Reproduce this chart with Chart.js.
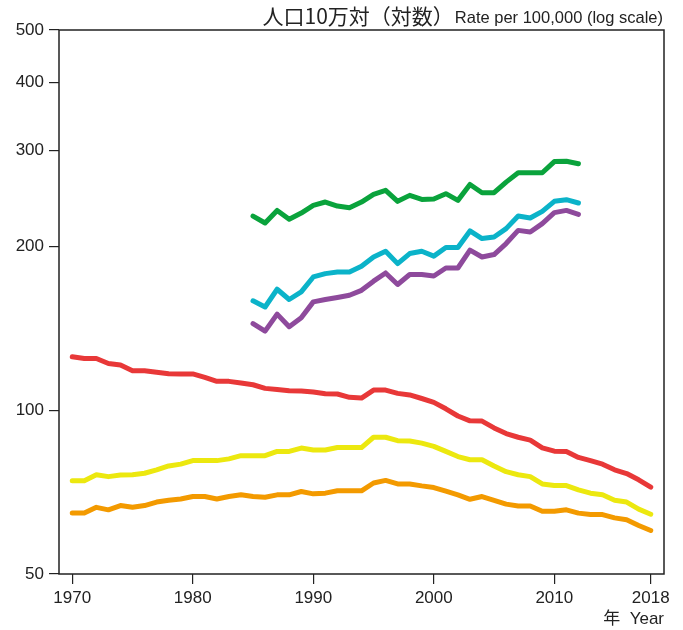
<!DOCTYPE html>
<html>
<head>
<meta charset="utf-8">
<script src="https://cdn.jsdelivr.net/npm/chart.js@4/dist/chart.umd.min.js"></script>
<style>
    html, body { margin: 0; padding: 0; background: #fff; }
    #wrap { width: 683px; height: 630px; }
</style>
</head>
<body>
<div id="wrap"><canvas id="rateChart" width="683" height="630"></canvas></div>
<script>
// ── data ─────────────────────────────────────────────
const yearsLong = [1970, 1971, 1972, 1973, 1974, 1975, 1976, 1977, 1978, 1979,
    1980, 1981, 1982, 1983, 1984, 1985, 1986, 1987, 1988, 1989,
    1990, 1991, 1992, 1993, 1994, 1995, 1996, 1997, 1998, 1999,
    2000, 2001, 2002, 2003, 2004, 2005, 2006, 2007, 2008, 2009,
    2010, 2011, 2012, 2013, 2014, 2015, 2016, 2017, 2018];
const yearsShort = [1985, 1986, 1987, 1988, 1989,
    1990, 1991, 1992, 1993, 1994, 1995, 1996, 1997, 1998, 1999,
    2000, 2001, 2002, 2003, 2004, 2005, 2006, 2007, 2008, 2009,
    2010, 2011, 2012];

const redRates = [125.4, 124.5, 124.5, 121.9, 121.1, 118.2, 118.2, 117.4, 116.7, 116.6,
    116.6, 114.9, 113.0, 113.0, 112.2, 111.4, 109.7, 109.2, 108.6, 108.5,
    108.0, 107.2, 107.1, 105.6, 105.3, 108.9, 108.9, 107.4, 106.7, 105.1,
    103.4, 100.6, 97.6, 95.6, 95.5, 92.8, 90.6, 89.2, 88.1, 85.3,
    84.1, 84.0, 81.9, 80.8, 79.6, 77.7, 76.5, 74.5, 72.2];
const yellowRates = [74.2, 74.2, 76.1, 75.5, 76.0, 76.1, 76.6, 77.7, 79.0, 79.6,
    80.8, 80.8, 80.8, 81.4, 82.5, 82.5, 82.5, 84.0, 84.0, 85.2,
    84.5, 84.5, 85.4, 85.4, 85.4, 89.2, 89.2, 87.9, 87.8, 87.0,
    85.8, 84.0, 82.2, 81.1, 81.1, 79.0, 77.1, 76.1, 75.5, 73.2,
    72.7, 72.7, 71.4, 70.4, 69.9, 68.3, 67.8, 65.8, 64.4];
const orangeRates = [64.7, 64.7, 66.3, 65.6, 66.8, 66.3, 66.8, 67.8, 68.3, 68.7,
    69.4, 69.4, 68.7, 69.4, 69.9, 69.4, 69.2, 69.9, 69.9, 70.9,
    70.2, 70.4, 71.1, 71.1, 71.1, 73.5, 74.3, 73.2, 73.2, 72.6,
    72.1, 71.0, 69.9, 68.6, 69.4, 68.3, 67.2, 66.7, 66.7, 65.2,
    65.2, 65.6, 64.7, 64.3, 64.3, 63.4, 62.9, 61.4, 60.1];

const greenRates = [227.5, 220.9, 233.0, 224.4, 230.4,
    238.0, 241.4, 237.3, 235.7, 241.4, 249.4, 253.6, 242.1, 248.3, 244.1,
    244.5, 250.1, 243.1, 260.0, 251.1, 251.1, 262.6, 273.2, 273.2, 273.2,
    286.5, 286.8, 283.8];
const cyanRates = [158.9, 154.8, 166.9, 159.8, 165.0,
    175.8, 178.3, 179.5, 179.5, 183.9, 191.3, 196.0, 186.0, 194.1, 196.0,
    192.0, 199.1, 199.1, 213.6, 206.8, 208.2, 215.7, 227.5, 225.6, 232.1,
    242.1, 243.8, 240.4];
const purpleRates = [144.3, 139.8, 150.2, 142.4, 147.9,
    158.2, 159.8, 161.2, 162.7, 166.1, 172.7, 178.8, 170.3, 177.6, 177.6,
    176.5, 182.6, 182.6, 196.9, 191.3, 193.3, 202.5, 214.1, 212.6, 220.3,
    230.8, 233.0, 229.1];

const xTicks = [1970, 1980, 1990, 2000, 2010, 2018];
const yTicks = [50, 100, 200, 300, 400, 500];

const titleJa = '人口10万対（対数）';
const titleEn = 'Rate per 100,000 (log scale)';
const xTitleText = '年  Year';

// ── helpers ──────────────────────────────────────────
const FONT = '"Liberation Sans", "Noto Sans CJK JP", Arial, sans-serif';
const JA_FONT = '"Noto Sans CJK JP", "Liberation Sans", sans-serif';
const INK = '#222';

function pts(years, vals) {
    return years.map((y, i) => ({ x: y, y: vals[i] }));
}

function line(label, years, vals, colour) {
    return {
        label,
        data: pts(years, vals),
        borderColor: colour,
        backgroundColor: colour,
        borderWidth: 5,
        borderCapStyle: 'round',
        borderJoinStyle: 'round',
        pointRadius: 0,
        tension: 0,
        fill: false
    };
}

// full frame round the plot area + the unit note above it
const frame = {
    id: 'frame',
    afterDraw(chart) {
        const { ctx, chartArea: a } = chart;
        ctx.save();
        ctx.strokeStyle = INK;
        ctx.lineWidth = 1.5;
        ctx.strokeRect(a.left, a.top, a.right - a.left, a.bottom - a.top);

        ctx.fillStyle = INK;
        ctx.textAlign = 'right';
        ctx.textBaseline = 'alphabetic';
        const right = a.right - 1;
        const base = a.top - 7;
        ctx.font = '16.5px ' + FONT;
        ctx.fillText(titleEn, right, base);
        const enW = ctx.measureText(titleEn).width;
        ctx.font = '21px ' + JA_FONT;
        ctx.fillText(titleJa, right - enW - 1, base + 1);
        ctx.restore();
    }
};

// ── chart ────────────────────────────────────────────
new Chart(document.getElementById('rateChart'), {
    type: 'line',
    data: {
        datasets: [
            line('green', yearsShort, greenRates, '#0aa33c'),
            line('cyan', yearsShort, cyanRates, '#0bb3c9'),
            line('purple', yearsShort, purpleRates, '#8e4a9c'),
            line('red', yearsLong, redRates, '#e83838'),
            line('yellow', yearsLong, yellowRates, '#ece80f'),
            line('orange', yearsLong, orangeRates, '#f39a00')
        ]
    },
    options: {
        responsive: false,
        animation: false,
        layout: { padding: { left: 0, right: 19, top: 30, bottom: 0 } },
        plugins: {
            legend: { display: false },
            tooltip: { enabled: false }
        },
        scales: {
            x: {
                type: 'linear',
                min: 1968.9,
                max: 2019.1,
                afterBuildTicks: s => { s.ticks = xTicks.map(v => ({ value: v })); },
                afterFit: s => { s.height = 56; },
                border: { display: false },
                grid: { drawOnChartArea: false, drawTicks: true, tickLength: 10, color: INK, lineWidth: 1.2 },
                ticks: {
                    color: INK,
                    padding: 4,
                    maxRotation: 0,
                    font: { family: FONT, size: 17 },
                    callback: v => String(v)
                },
                title: {
                    display: true,
                    text: xTitleText,
                    align: 'end',
                    color: INK,
                    font: { family: FONT, size: 17 },
                    padding: { top: 1, bottom: 0 }
                }
            },
            y: {
                type: 'logarithmic',
                min: 50,
                max: 500,
                afterBuildTicks: s => { s.ticks = yTicks.map(v => ({ value: v })); },
                afterFit: s => { s.width = 59; },
                border: { display: false },
                grid: { drawOnChartArea: false, drawTicks: true, tickLength: 10, color: INK, lineWidth: 1.2 },
                ticks: {
                    color: INK,
                    padding: 5,
                    font: { family: FONT, size: 17 },
                    callback: v => String(v)
                }
            }
        }
    },
    plugins: [frame]
});
</script>
</body>
</html>
